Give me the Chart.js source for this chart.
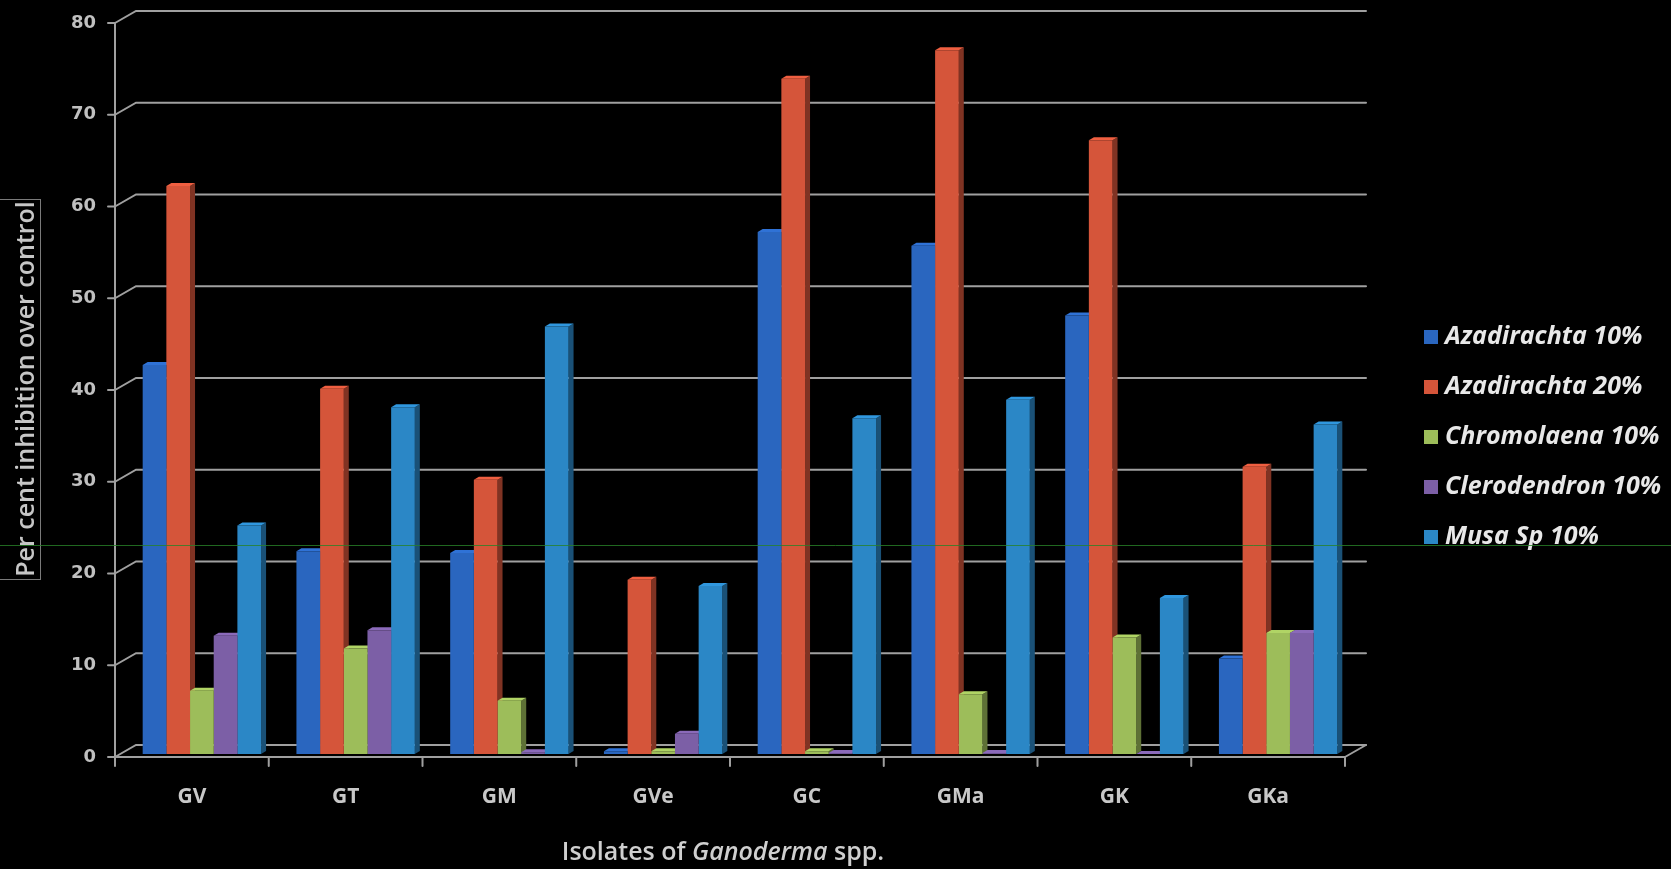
<!DOCTYPE html>
<html>
<head>
<meta charset="utf-8">
<script src="https://cdn.jsdelivr.net/npm/chart.js@4.4.1/dist/chart.umd.min.js"></script>
<style>
  html, body { margin: 0; padding: 0; background: #000; }
  #wrap { width: 1671px; height: 869px; position: relative; }
</style>
</head>
<body>
<div id="wrap"><canvas id="c" width="1671" height="869"></canvas></div>
<script>
// Isolates of Ganoderma spp. on the x axis
const isolates = ['GV', 'GT', 'GM', 'GVe', 'GC', 'GMa', 'GK', 'GKa'];

// Per cent inhibition over control, one array per botanical extract
const azadirachta10 = [42.4, 22.1, 21.9, 0.3, 56.9, 55.4, 47.8, 10.4];
const azadirachta20 = [61.9, 39.8, 29.9, 19.0, 73.6, 76.7, 66.9, 31.3];
const chromolaena10 = [6.9, 11.5, 5.8, 0.3, 0.3, 6.5, 12.7, 13.2];
const clerodendron10 = [12.9, 13.5, 0.2, 2.2, 0.1, 0.1, 0.0, 13.2];
const musa10 = [24.9, 37.8, 46.6, 18.3, 36.6, 38.6, 17.0, 35.9];

const seriesNames = ['Azadirachta 10%', 'Azadirachta 20%', 'Chromolaena 10%', 'Clerodendron 10%', 'Musa Sp 10%'];
const seriesValues = [azadirachta10, azadirachta20, chromolaena10, clerodendron10, musa10];
const seriesColors = ['#2a66bf', '#d5553a', '#9dbd5a', '#7c5fa6', '#2b87c6'];

const yMin = 0, yMax = 80, yStep = 10;

// depth of the 3-D box (front plane -> back wall) and of each column
const DEPTH_X = 21, DEPTH_Y = 12, FRONT_SHIFT = 10, FRONT_DROP = 3;
const BAR_DX = 5, BAR_DY = 3;

function shade(hex, f) {
  const n = parseInt(hex.slice(1), 16);
  const c = [(n >> 16) & 255, (n >> 8) & 255, n & 255].map(v => Math.max(0, Math.min(255, Math.round(v * f))));
  return 'rgb(' + c.join(',') + ')';
}

function poly(ctx, pts) {
  ctx.beginPath();
  ctx.moveTo(pts[0][0], pts[0][1]);
  for (let i = 1; i < pts.length; i++) ctx.lineTo(pts[i][0], pts[i][1]);
  ctx.closePath();
  ctx.fill();
}

function seg(ctx, x1, y1, x2, y2) {
  ctx.beginPath();
  ctx.moveTo(x1, y1);
  ctx.lineTo(x2, y2);
  ctx.stroke();
}

const scene3d = {
  id: 'scene3d',
  beforeDraw(chart) {
    const { ctx, width, height } = chart;
    ctx.save();
    ctx.fillStyle = '#000';
    ctx.fillRect(0, 0, width, height);
    ctx.restore();
  },
  beforeDatasetsDraw(chart) {
    const { ctx, chartArea, scales } = chart;
    const xs = scales.x, ys = scales.y;
    const fl = chartArea.left - FRONT_SHIFT;
    const fr = chartArea.right - FRONT_SHIFT;
    const y0 = ys.getPixelForValue(yMin) + FRONT_DROP;
    const yTop = ys.getPixelForValue(yMax) + FRONT_DROP;
    ctx.save();
    ctx.lineCap = 'round';
    // back wall gridlines with their diagonal from the front axis
    ctx.strokeStyle = '#a0a0a0';
    ctx.lineWidth = 2;
    ys.ticks.forEach(t => {
      const yf = ys.getPixelForValue(t.value) + FRONT_DROP;
      ctx.beginPath();
      ctx.moveTo(fl, yf);
      ctx.lineTo(fl + DEPTH_X, yf - DEPTH_Y);
      ctx.lineTo(fr + DEPTH_X, yf - DEPTH_Y);
      ctx.stroke();
      seg(ctx, fl - 7, yf, fl, yf);
    });
    // front value axis, floor edge and right floor corner
    seg(ctx, fl, yTop, fl, y0);
    seg(ctx, fl, y0, fr, y0);
    seg(ctx, fr, y0, fr + DEPTH_X, y0 - DEPTH_Y);
    // category separators under the floor edge
    for (let i = 0; i <= isolates.length; i++) {
      const bx = xs.getPixelForValue(i - 0.5) - FRONT_SHIFT;
      seg(ctx, bx, y0, bx, y0 + 9);
    }
    // column side faces, then column tops; the flat fronts are drawn by Chart.js on top
    const bars = [];
    chart.data.datasets.forEach((ds, di) => {
      chart.getDatasetMeta(di).data.forEach(el => {
        const p = el.getProps(['x', 'y', 'base', 'width'], true);
        bars.push({ p, color: ds.backgroundColor });
      });
    });
    bars.forEach(({ p, color }) => {
      const r = p.x + p.width / 2;
      ctx.fillStyle = shade(color, 0.6);
      poly(ctx, [[r, p.y], [r + BAR_DX, p.y - BAR_DY], [r + BAR_DX, p.base - BAR_DY], [r, p.base]]);
    });
    bars.forEach(({ p, color }) => {
      const l = p.x - p.width / 2, r = p.x + p.width / 2;
      ctx.fillStyle = shade(color, 1.12);
      poly(ctx, [[l, p.y], [l + BAR_DX, p.y - BAR_DY], [r + BAR_DX, p.y - BAR_DY], [r, p.y]]);
    });
    ctx.restore();
  },
  afterDraw(chart) {
    const { ctx } = chart;
    ctx.save();

    // value axis title in its thin frame
    ctx.strokeStyle = '#7a7a7a';
    ctx.lineWidth = 1;
    ctx.strokeRect(-1.5, 199.5, 42, 380);
    ctx.translate(27, 389);
    ctx.rotate(-Math.PI / 2);
    ctx.fillStyle = '#c6c6c6';
    ctx.font = '600 25px "Open Sans"';
    ctx.textAlign = 'center';
    ctx.textBaseline = 'middle';
    ctx.fillText('Per cent inhibition over control', 0, 0);
    ctx.setTransform(1, 0, 0, 1, 0, 0);

    // category axis title with the italic genus name
    const parts = [
      ['Isolates of ', '600 25px "Open Sans"'],
      ['Ganoderma', 'italic 600 25px "Open Sans"'],
      [' spp.', '600 25px "Open Sans"']
    ];
    let total = 0;
    parts.forEach(([t, f]) => { ctx.font = f; total += ctx.measureText(t).width; });
    let tx = 723 - total / 2;
    ctx.fillStyle = '#cfcfcf';
    ctx.textAlign = 'left';
    ctx.textBaseline = 'middle';
    parts.forEach(([t, f]) => {
      ctx.font = f;
      ctx.fillText(t, tx, 853);
      tx += ctx.measureText(t).width;
    });

    // legend
    chart.data.datasets.forEach((ds, i) => {
      const cy = 337 + i * 50;
      ctx.fillStyle = ds.backgroundColor;
      ctx.fillRect(1424, cy - 7, 14, 14);
      ctx.fillStyle = '#e8e8e8';
      ctx.font = 'italic bold 25px "Open Sans"';
      ctx.textBaseline = 'middle';
      ctx.fillText(ds.label, 1445, cy);
    });

    // faint green scan line across the slide
    ctx.strokeStyle = 'rgba(40,130,40,0.8)';
    ctx.lineWidth = 1;
    seg(ctx, 0, 545.5, chart.width, 545.5);
    ctx.restore();
  }
};

new Chart(document.getElementById('c'), {
  type: 'bar',
  data: {
    labels: isolates,
    datasets: seriesNames.map((name, i) => ({
      label: name,
      data: seriesValues[i],
      backgroundColor: seriesColors[i],
      borderWidth: 0,
      categoryPercentage: 0.77,
      barPercentage: 1.0
    }))
  },
  options: {
    responsive: false,
    animation: false,
    devicePixelRatio: 1,
    layout: { padding: { top: 20, right: 316, bottom: 0, left: 0 } },
    plugins: { legend: { display: false }, tooltip: { enabled: false } },
    scales: {
      x: {
        grid: { display: false, drawTicks: false },
        border: { display: false },
        ticks: {
          color: '#c8c8c8',
          font: { family: '"Open Sans"', size: 21, weight: 'bold' },
          padding: 30,
          labelOffset: -FRONT_SHIFT,
          maxRotation: 0
        },
        afterFit(s) { s.height = 115; }
      },
      y: {
        min: yMin,
        max: yMax,
        grid: { display: false, drawTicks: false },
        border: { display: false },
        ticks: {
          stepSize: yStep,
          color: '#c0c0c0',
          font: { family: '"DejaVu Sans"', size: 18, weight: 'bold' },
          padding: 29,
          labelOffset: FRONT_DROP
        },
        afterFit(s) {
          s.width = 125;
          s.paddingTop = 10;
          s.paddingBottom = 10;
        }
      }
    }
  },
  plugins: [scene3d]
});
</script>
</body>
</html>
